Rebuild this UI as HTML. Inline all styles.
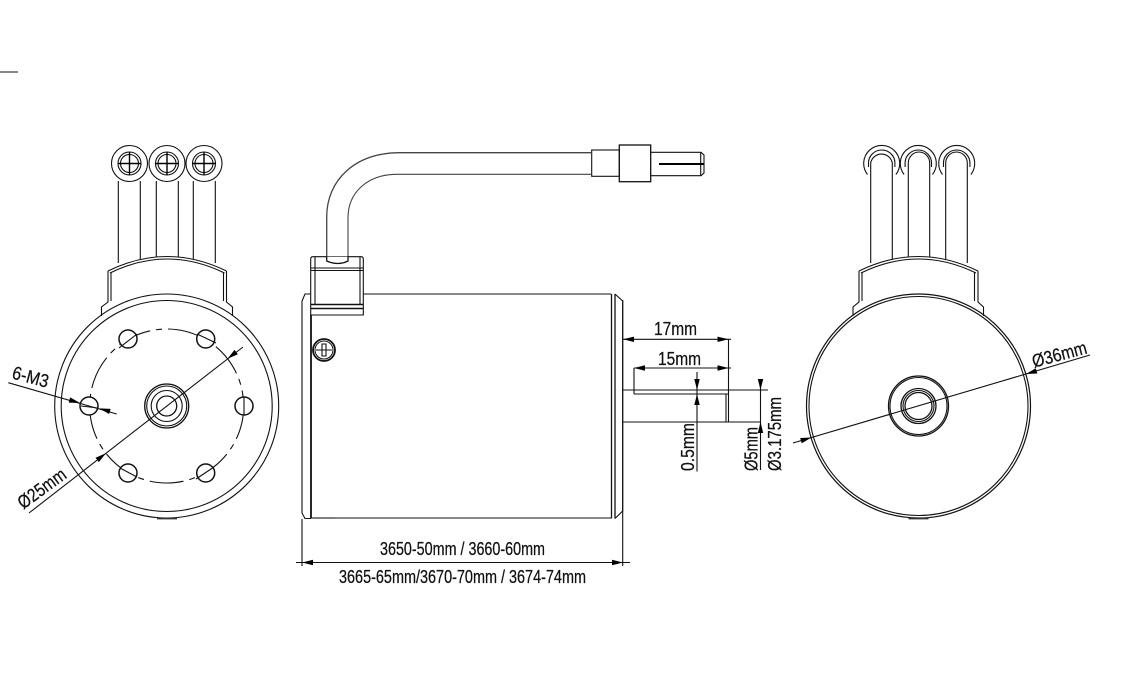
<!DOCTYPE html>
<html><head><meta charset="utf-8"><style>
html,body{margin:0;padding:0;background:#fff;width:1136px;height:683px;overflow:hidden}
svg{display:block}
.l{fill:none;stroke:#111;stroke-width:1.1}
.h{fill:none;stroke:#000;stroke-width:1.8}
.t{font-family:"Liberation Sans",sans-serif;font-size:18.5px;fill:#111;stroke:#111;stroke-width:.25}
</style></head><body>
<svg width="1136" height="683" viewBox="0 0 1136 683" xmlns="http://www.w3.org/2000/svg">
<defs><path id="a" d="M0 0L-11 -2.7V2.7Z" fill="#000"/></defs>
<rect width="1136" height="683" fill="#fff"/>
<path class="l" d="M0 72H18"/>

<!-- LEFT VIEW -->
<g class="l">
<path d="M118.300 181V263M140.300 181V259M156.300 181V257M178.300 181V257M193.300 181V259M215.300 181V263"/>
<circle cx="129.500" cy="163.500" r="18"/><circle cx="167" cy="163.500" r="18"/><circle cx="204" cy="163.500" r="18"/>
<circle cx="129.500" cy="163.500" r="11.500"/><circle cx="167" cy="163.500" r="11.500"/><circle cx="204" cy="163.500" r="11.500"/>
<circle cx="129.500" cy="163.500" r="9"/><circle cx="167" cy="163.500" r="9"/><circle cx="204" cy="163.500" r="9"/>
</g>
<path class="h" d="M118 163.500H141M129.500 152V175M155.500 163.500H178.500M167 152V175M192.500 163.500H215.500M204 152V175" style="stroke-width:1.400"/>
<g class="l">
<path d="M108 271Q167 242 226.500 271"/>
<path d="M110 273Q167 245 224.500 273"/>
<path d="M108 271V302L101.500 307V316M111 272V301M226.500 271V302L232.500 307V316M223.500 272V301"/>
<circle cx="166.700" cy="406" r="112"/><circle cx="166.700" cy="406" r="105.500"/>
<circle cx="166.700" cy="406" r="77" stroke-dasharray="34 6 6 6"/>
<circle cx="166.700" cy="406" r="22" stroke-width="1.300"/><circle cx="166.700" cy="406" r="20"/><circle cx="166.700" cy="406" r="15.500"/><circle cx="166.700" cy="406" r="10" stroke-width="1.300"/>
</g>
<g fill="#fff" stroke="#111" stroke-width="1.500">
<circle cx="128" cy="339" r="9"/><circle cx="205.700" cy="339" r="9"/><circle cx="244" cy="406" r="9"/><circle cx="205.700" cy="473" r="9"/><circle cx="128" cy="473" r="9"/><circle cx="89" cy="406" r="9"/>
</g>
<path class="l" d="M119 348L137 334M197 334L216 343M244 397V415M120 468L137 477M196 479L214 467M81 406L98 408" stroke-width="0.800"/>
<path d="M157 518.500H177" stroke="#333" stroke-width="1.800"/>
<path class="l" d="M29 513L243 347M8.300 382.700L116.700 414"/>
<use href="#a" transform="translate(105.900 453.200) rotate(-37.800)"/>
<use href="#a" transform="translate(227.500 358.800) rotate(142.200)"/>
<use href="#a" transform="translate(80 403) rotate(16)"/>
<use href="#a" transform="translate(99.300 408.400) rotate(196)"/>
<text class="t" text-anchor="middle" textLength="37" lengthAdjust="spacingAndGlyphs" transform="translate(29 383) rotate(15)">6-M3</text>
<text class="t" text-anchor="middle" textLength="55" lengthAdjust="spacingAndGlyphs" transform="translate(45.500 493.500) rotate(-36)">Ø25mm</text>

<!-- MIDDLE VIEW -->
<g class="l">
<path d="M326.700 257V217C326.700 180 355 152.700 400 152.700H591" stroke-width="1.300" stroke="#444"/>
<path d="M348 257V218C348 192 368 174.300 397 174.300H591" stroke="#444"/>
<path d="M363.300 294H611M311 518H611M302 301L305 294H311M302 301V513L305 518.500H311"/>
<path d="M311 315V518" stroke-width="1.800"/>
<path d="M611.500 294V518.500M615 294V518.500" stroke-width="1.300"/>
<path d="M615 294L622.700 301V511L615 518.500"/>
<path d="M310.700 259Q310.700 256.700 313 256.700H361Q363.300 256.700 363.300 259V315H310.700Z" fill="#fff"/>
<path d="M310.700 268H363.300M310.700 270.500H363.300M315 257V304M360 257V304"/>
<path d="M310.700 304.500H363.300M310.700 308.500H363.300" stroke-width="1.600"/>
<path d="M313 518H335" stroke="#555" stroke-width="1.600"/>
<path d="M326.700 256.700V261Q338 266 348 261V256.700" fill="#fff" stroke-width="1.300"/>
</g>
<circle cx="324" cy="350" r="11" fill="#fff" stroke="#111" stroke-width="1.800"/>
<circle cx="324" cy="350" r="9" fill="none" stroke="#111" stroke-width="1"/>
<path class="l" d="M316 350H332M322 344H326V356H322Z"/>
<g class="l" fill="#fff">
<rect x="591.700" y="150" width="27.600" height="26.300"/>
<rect x="619.300" y="145" width="31.400" height="36.700" stroke-width="1.300"/>
<path d="M650.700 152.300H701L704 155V173L701 175.700H650.700M700.700 152.300V175.700"/>
</g>
<path d="M659 164H703.500" stroke="#000" stroke-width="2"/>

<!-- shaft & dims -->
<g class="l">
<path d="M622.700 390H768M622.700 422H760M634 394H728M634 368V394M726 394V421.500M728.500 339V422M622.700 300V566M302 519V566"/>
<path d="M622.700 339.300H731M634 368H731M697 372V471.500M760.500 384V470M296 562.500H630"/>
</g>
<use href="#a" transform="translate(623 339.300) rotate(180)"/>
<use href="#a" transform="translate(728.500 339.300)"/>
<use href="#a" transform="translate(634 368) rotate(180)"/>
<use href="#a" transform="translate(728.500 368)"/>
<use href="#a" transform="translate(697 390) rotate(90)"/>
<use href="#a" transform="translate(697 394) rotate(-90)"/>
<use href="#a" transform="translate(760.500 390) rotate(90)"/>
<use href="#a" transform="translate(760.500 422) rotate(-90)"/>
<use href="#a" transform="translate(302 562.500) rotate(180)"/>
<use href="#a" transform="translate(623 562.500)"/>
<text class="t" x="654" y="335" textLength="43" lengthAdjust="spacingAndGlyphs">17mm</text>
<text class="t" x="658" y="365" textLength="43" lengthAdjust="spacingAndGlyphs">15mm</text>
<text class="t" textLength="48" lengthAdjust="spacingAndGlyphs" transform="translate(694 471) rotate(-90)">0.5mm</text>
<text class="t" textLength="44" lengthAdjust="spacingAndGlyphs" transform="translate(757.500 471) rotate(-90)">Ø5mm</text>
<text class="t" textLength="74" lengthAdjust="spacingAndGlyphs" transform="translate(781 471) rotate(-90)">Ø3.175mm</text>
<text class="t" x="380" y="555" textLength="165" lengthAdjust="spacingAndGlyphs">3650-50mm / 3660-60mm</text>
<text class="t" x="339" y="583" textLength="247" lengthAdjust="spacingAndGlyphs">3665-65mm/3670-70mm / 3674-74mm</text>

<!-- RIGHT VIEW -->
<g class="l">
<path d="M867.500 174.500A18 18 0 1 1 895.900 174.500"/>
<path d="M904.100 174.500A18 18 0 1 1 932.500 174.500"/>
<path d="M942.500 174.500A18 18 0 1 1 970.900 174.500"/>
<path d="M870.700 263V163A11 11 0 0 1 892.300 163V259M908.300 257V163A10.700 11 0 0 1 929.700 163V257M945.700 259V163A10.800 11 0 0 1 967.300 163V263"/>
<path d="M868.500 167V163A13.200 13 0 0 1 894.900 163V167M905.100 167V163A13.200 13 0 0 1 931.500 163V167M943.500 167V163A13.200 13 0 0 1 969.900 163V167"/>
<path d="M859 271Q918.500 242 978 271"/>
<path d="M861 273Q918.500 245 976 273"/>
<path d="M859 271V302L853 307V316M862 272V301M978 271V302L983.500 307V316M974.500 272V301"/>
<circle cx="918.500" cy="406" r="112" stroke-width="1.200"/><circle cx="918.500" cy="406" r="109.500"/>
<circle cx="918.500" cy="406" r="30" stroke-width="1.300"/><circle cx="918.500" cy="406" r="28.500"/>
<circle cx="918.500" cy="406" r="17.500" stroke-width="1.300"/><circle cx="918.500" cy="406" r="15.500"/><circle cx="918.500" cy="406" r="13.500" stroke-width="1.300"/>
<path d="M793 443L1090 355"/>
</g>
<path d="M908.500 518.500H928.500" stroke="#333" stroke-width="1.800"/>
<use href="#a" transform="translate(811.500 437.500) rotate(-16.500)"/>
<use href="#a" transform="translate(1026 374) rotate(163.500)"/>
<text class="t" text-anchor="middle" textLength="56" lengthAdjust="spacingAndGlyphs" transform="translate(1061 360.500) rotate(-15)">Ø36mm</text>
</svg>
</body></html>
